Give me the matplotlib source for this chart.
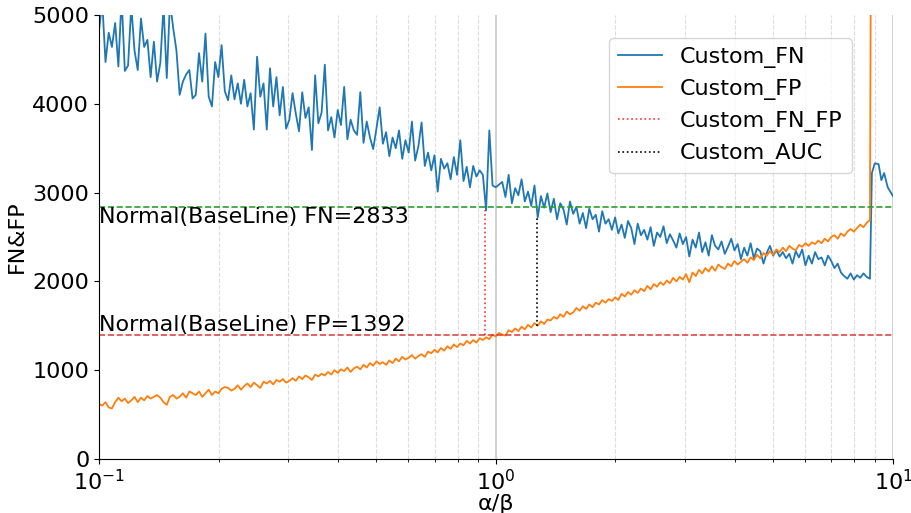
import matplotlib
matplotlib.use("Agg")
import matplotlib.pyplot as plt
import numpy as np

# alpha/beta sweep (main part up to the jump, then the tail up to 10)
x_start, x_jump = 0.1, 8.75
tail_ratio = [8.85, 9.0, 9.2, 9.35, 9.5, 9.7, 10.0]

custom_fn = [
    4830, 5150, 4470, 4800, 4640, 4910, 4420, 5200, 4370, 4430, 5100, 4600, 4380, 4960, 4640, 4720, 4300, 4700, 4250, 4460,
    5100, 4290, 5150, 4850, 4600, 4100, 4250, 4330, 4380, 4060, 4100, 4570, 4250, 4790, 4080, 3970, 4470, 4300, 4660, 4140,
    4040, 4320, 4050, 4230, 4000, 4270, 3970, 4120, 3710, 4530, 4080, 4230, 3710, 4400, 3970, 4300, 3870, 4190, 3720, 3820,
    4120, 3890, 3690, 4130, 3840, 3960, 3480, 4320, 3780, 3900, 4440, 3700, 3850, 3620, 3930, 3760, 4190, 3600, 3820, 3700,
    3650, 4130, 3560, 3800, 3620, 3490, 3720, 3960, 3550, 3680, 3410, 3620, 3500, 3700, 3380, 3590, 3450, 3800, 3360, 3520,
    3790, 3300, 3450, 3250, 3420, 3010, 3380, 3270, 3330, 3150, 3400, 3200, 3590, 3130, 3290, 3060, 3300, 3180, 3250, 3200,
    2800, 3700, 3080, 3060, 3090, 3120, 2950, 3200, 2880, 3050, 2970, 3150, 2900, 3010, 2850, 3080, 2720, 2960, 2830, 2990,
    2780, 2930, 2700, 2880, 2810, 2640, 2900, 2760, 2840, 2650, 2770, 2600, 2820, 2700, 2750, 2560, 2790, 2650, 2700, 2580,
    2720, 2540, 2640, 2490, 2680, 2600, 2420, 2650, 2520, 2580, 2470, 2610, 2400, 2550, 2500, 2620, 2430, 2530, 2460, 2380,
    2540, 2420, 2500, 2280, 2470, 2380, 2550, 2330, 2440, 2290, 2520, 2400, 2360, 2450, 2310, 2390, 2480, 2350, 2420, 2250,
    2380, 2290, 2430, 2260, 2370, 2340, 2200, 2320, 2400, 2290, 2350, 2280, 2330, 2260, 2310, 2200, 2340, 2270, 2360, 2180,
    2290, 2200, 2330, 2250, 2270, 2180, 2290, 2230, 2150, 2200, 2100, 2060, 2030, 2090, 2020, 2070, 2040, 2090, 2050, 2030,
]
custom_fn_tail = [3220, 3330, 3320, 3140, 3220, 3060, 2960]

custom_fp = [
    620, 600, 640, 580, 570, 640, 690, 650, 680, 630, 660, 700, 640, 690, 660, 710, 680, 700, 720, 690,
    640, 610, 700, 720, 680, 700, 740, 690, 760, 740, 720, 760, 700, 740, 780, 720, 760, 740, 790, 810,
    800, 770, 790, 830, 780, 820, 850, 810, 860, 830, 800, 870, 850, 880, 840, 890, 870, 900, 860, 880,
    910, 880, 930, 900, 940, 920, 890, 950, 930, 960, 940, 980, 950, 1000, 970, 1010, 990, 1030, 980, 1020,
    1040, 1010, 1060, 1030, 1080, 1050, 1100, 1070, 1090, 1060, 1110, 1080, 1130, 1100, 1150, 1120, 1140, 1170, 1130, 1160,
    1180, 1150, 1210, 1190, 1230, 1200, 1250, 1220, 1270, 1240, 1290, 1260, 1300, 1280, 1330, 1300, 1340, 1310, 1360, 1340,
    1370, 1350, 1400, 1380, 1420, 1400, 1390, 1450, 1430, 1470, 1440, 1490, 1460, 1510, 1480, 1530, 1500, 1550, 1520, 1570,
    1560, 1600, 1580, 1630, 1600, 1660, 1630, 1650, 1700, 1670, 1720, 1690, 1740, 1710, 1760, 1740, 1790, 1760, 1800, 1780,
    1820, 1790, 1860, 1830, 1880, 1850, 1900, 1870, 1920, 1890, 1950, 1910, 1970, 1940, 1990, 1960, 2010, 1980, 2040, 2000,
    2050, 2020, 2080, 1990, 2100, 2060, 2130, 2090, 2150, 2110, 2170, 2120, 2190, 2160, 2140, 2200, 2170, 2230, 2190, 2220,
    2250, 2210, 2270, 2240, 2300, 2260, 2320, 2290, 2340, 2300, 2360, 2330, 2380, 2340, 2400, 2370, 2350, 2410, 2390, 2430,
    2400, 2440, 2420, 2460, 2430, 2480, 2450, 2500, 2520, 2480, 2540, 2510, 2560, 2590, 2560, 2600, 2640, 2610, 2660, 2690,
]
custom_fp_tail = [9000, 9100, 9050, 9200, 9150, 9300, 9250]

baseline_fn = 2833
baseline_fp = 1392

fn_fp_ratio = 0.938
fn_fp_span = (1392, 2800)
auc_ratio = 1.27
auc_span = (1500, 2710)

x_main = np.geomspace(x_start, x_jump, len(custom_fn))
x_all = np.concatenate([x_main, tail_ratio])
fn_all = custom_fn + custom_fn_tail
fp_all = custom_fp + custom_fp_tail

plt.rcParams["font.size"] = 16

fig = plt.figure(figsize=(9.11, 5.13), dpi=100)
ax = fig.add_axes([0.1087, 0.1053, 0.8715, 0.8655])

ax.plot(x_all, fn_all, color="tab:blue", lw=1.3, label="Custom_FN")
ax.plot(x_all, fp_all, color="tab:orange", lw=1.3, label="Custom_FP")
ax.vlines(fn_fp_ratio, *fn_fp_span, colors="red", linestyles=":", lw=1.2,
          alpha=0.8, label="Custom_FN_FP")
ax.vlines(auc_ratio, *auc_span, colors="black", linestyles=":", lw=1.2,
          label="Custom_AUC")

ax.axhline(baseline_fn, color="tab:green", ls="--", lw=1.2)
ax.axhline(baseline_fp, color="tab:red", ls="--", lw=1.2, alpha=0.85)
ax.text(x_start, baseline_fn, f"Normal(BaseLine) FN={baseline_fn}",
        va="top", ha="left", fontsize=16)
ax.text(x_start, baseline_fp, f"Normal(BaseLine) FP={baseline_fp}",
        va="bottom", ha="left", fontsize=16)

ax.set_xscale("log")
ax.set_xlim(0.1, 10)
ax.set_ylim(0, 5000)
ax.set_yticks([0, 1000, 2000, 3000, 4000, 5000])
ax.set_xlabel("α/β", labelpad=0)
ax.set_ylabel("FN&FP")

ax.grid(which="major", axis="x", color="#c8c8c8", lw=1.2)
ax.grid(which="minor", axis="x", color="#dddddd", ls="--", lw=0.8)
ax.spines["top"].set_visible(False)
ax.spines["right"].set_visible(False)

ax.legend(loc="upper right", bbox_to_anchor=(0.948, 0.948),
          borderaxespad=0, fontsize=16)

fig.savefig("out.png", dpi=100)
